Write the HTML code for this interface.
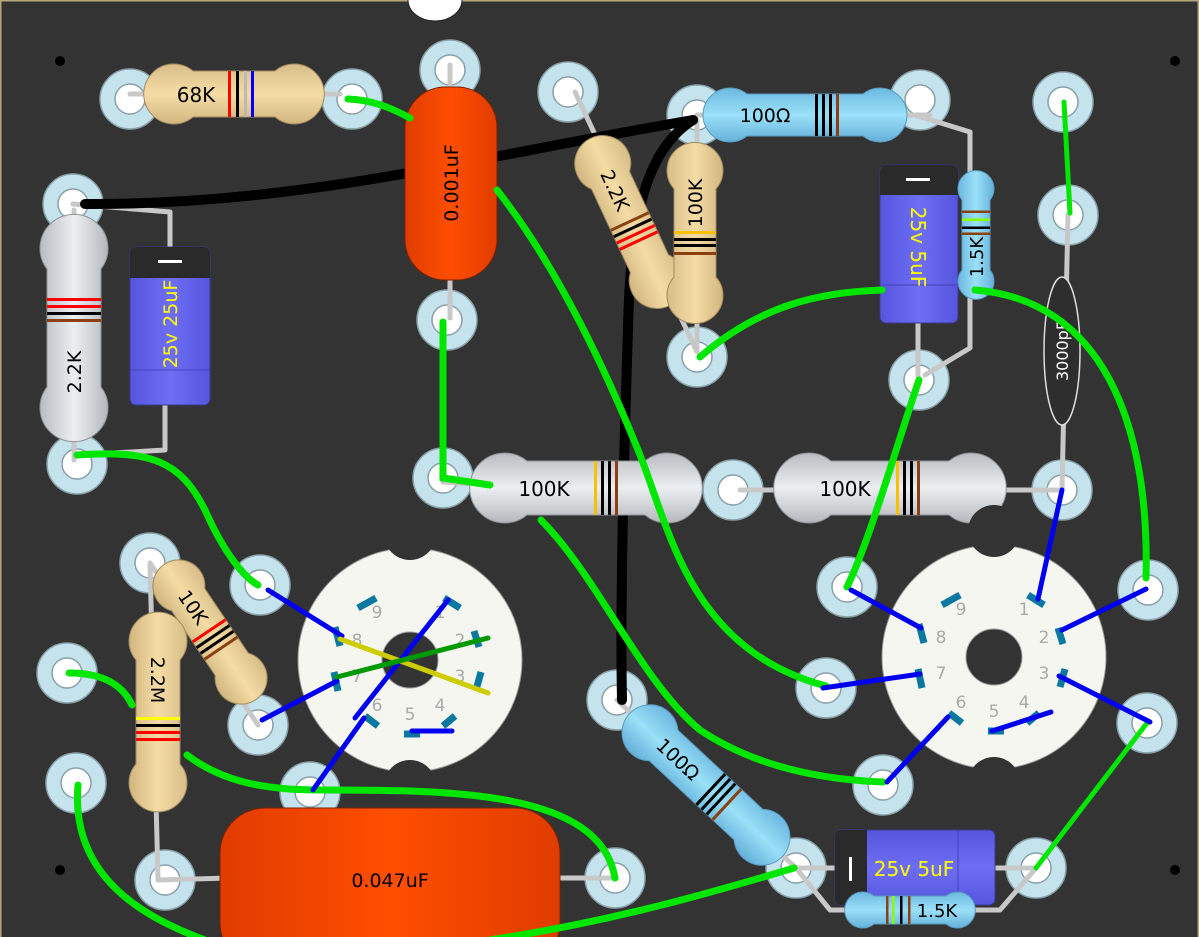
<!DOCTYPE html>
<html><head><meta charset="utf-8"><style>
html,body{margin:0;padding:0;background:#333;}
svg{display:block;}
text{font-family:"DejaVu Sans","Liberation Sans",sans-serif;}
</style></head><body>
<svg width="1199" height="937" viewBox="0 0 1199 937" xmlns="http://www.w3.org/2000/svg">
<defs>
<linearGradient id="tan" x1="0" y1="0" x2="0" y2="1"><stop offset="0" stop-color="#d8bd88"/><stop offset="0.5" stop-color="#f5dca4"/><stop offset="1" stop-color="#d2b680"/></linearGradient>
<linearGradient id="blu" x1="0" y1="0" x2="0" y2="1"><stop offset="0" stop-color="#6cb8e0"/><stop offset="0.5" stop-color="#9ae0f8"/><stop offset="1" stop-color="#64b0da"/></linearGradient>
<linearGradient id="gry" x1="0" y1="0" x2="0" y2="1"><stop offset="0" stop-color="#b8bcc0"/><stop offset="0.5" stop-color="#eceff2"/><stop offset="1" stop-color="#b4b8bc"/></linearGradient>
<linearGradient id="org" x1="0" y1="0" x2="1" y2="0"><stop offset="0" stop-color="#e03c00"/><stop offset="0.5" stop-color="#ff4e00"/><stop offset="1" stop-color="#e03c00"/></linearGradient>
<linearGradient id="ecap" x1="0" y1="0" x2="1" y2="0"><stop offset="0" stop-color="#5555dd"/><stop offset="0.5" stop-color="#6e6ef5"/><stop offset="1" stop-color="#5555dd"/></linearGradient>
<linearGradient id="ecapv" x1="0" y1="0" x2="0" y2="1"><stop offset="0" stop-color="#5555dd"/><stop offset="0.5" stop-color="#6e6ef5"/><stop offset="1" stop-color="#5555dd"/></linearGradient>
<g id="eye"><circle r="30" fill="#c4e3ec" stroke="#8aa0a8" stroke-width="1.5"/><circle r="15" fill="#fff" stroke="#8aa0a8" stroke-width="1.5"/></g>
</defs>
<rect width="1199" height="937" fill="#333"/>
<rect x="0.5" y="0.5" width="1198" height="940" fill="none" stroke="#b5a878" stroke-width="2"/>
<ellipse cx="435" cy="0" rx="27" ry="21" fill="#fff" stroke="#222"/>
<g fill="#000"><circle cx="60" cy="61" r="5"/><circle cx="1175" cy="61" r="5"/><circle cx="60" cy="870" r="5"/><circle cx="1175" cy="870" r="5"/></g>

<use href="#eye" x="130" y="99"/><use href="#eye" x="352" y="99"/><use href="#eye" x="450" y="70"/><use href="#eye" x="568" y="92"/>
<use href="#eye" x="697" y="115"/><use href="#eye" x="920" y="100"/><use href="#eye" x="1063" y="102"/>
<use href="#eye" x="73" y="204"/><use href="#eye" x="1068" y="215"/>
<use href="#eye" x="447" y="320"/><use href="#eye" x="697" y="357"/><use href="#eye" x="919" y="380"/>
<use href="#eye" x="77" y="464"/><use href="#eye" x="443" y="478"/><use href="#eye" x="733" y="490"/><use href="#eye" x="1062" y="490"/>
<use href="#eye" x="150" y="563"/><use href="#eye" x="260" y="585"/><use href="#eye" x="847" y="587"/><use href="#eye" x="1148" y="590"/>
<use href="#eye" x="67" y="673"/><use href="#eye" x="258" y="725"/><use href="#eye" x="826" y="688"/><use href="#eye" x="617" y="700"/><use href="#eye" x="1147" y="723"/>
<use href="#eye" x="76" y="783"/><use href="#eye" x="310" y="792"/><use href="#eye" x="883" y="785"/>
<use href="#eye" x="165" y="880"/><use href="#eye" x="615" y="878"/><use href="#eye" x="796" y="868"/><use href="#eye" x="1036" y="868"/>

<g stroke="#c8c8c8" stroke-width="5" fill="none" stroke-linecap="round" stroke-linejoin="round">
<path d="M130,94 H340"/><path d="M450,65 V100"/><path d="M450,275 V318"/>
<path d="M697,115 H930 M915,115 L970,132 V348 L925,375"/><path d="M918,320 V378"/>
<path d="M575,92 L697,352 V120"/>
<path d="M73,204 L170,212 V250 M74,210 V240"/><path d="M165,400 V450 L80,455 M74,415 V460"/>
<path d="M1068,215 L1062,490 L740,490 M443,482 L500,486"/>
<path d="M150,563 L158,880 L230,878 M150,563 L258,725"/>
<path d="M560,878 H615"/>
<path d="M617,700 L796,868 H840 M796,868 L830,910 H1000 L1036,868 H990"/>
</g>

<g stroke="#000" stroke-width="10" fill="none" stroke-linecap="round">
<path d="M85,204 C300,205 460,160 693,120"/>
<path d="M693,120 C645,150 630,220 628,330 C624,450 620,600 622,700"/>
</g>

<g transform="translate(234,94)">
<path d="M-41,-23 A30,30 0 1 0 -41,23 H41 A30,30 0 1 0 41,-23 Z" fill="url(#tan)" stroke="#a08a60"/>
<rect x="-6" y="-23" width="3" height="46" fill="#f00"/><rect x="2" y="-23" width="3" height="46" fill="#000"/><rect x="10" y="-23" width="3" height="46" fill="#bbb"/><rect x="17" y="-23" width="3" height="46" fill="#00f"/>
<text x="-38" y="8" font-size="20" text-anchor="middle">68K</text></g>

<g transform="translate(805,115)">
<path d="M-58,-21 A27,27 0 1 0 -58,21 H58 A27,27 0 1 0 58,-21 Z" fill="url(#blu)" stroke="#5a9cc0"/>
<rect x="10" y="-21" width="3" height="42" fill="#000"/><rect x="17" y="-21" width="3" height="42" fill="#000"/><rect x="24" y="-21" width="3" height="42" fill="#000"/><rect x="31" y="-21" width="3" height="42" fill="#8a4010"/>
<text x="-40" y="7" font-size="19" text-anchor="middle">100Ω</text></g>

<g transform="translate(630,222) rotate(65)">
<path d="M-46,-21 A28,28 0 1 0 -46,21 H46 A28,28 0 1 0 46,-21 Z" fill="url(#tan)" stroke="#a08a60"/>
<rect x="-2" y="-21" width="3" height="42" fill="#8a4010"/><rect x="5" y="-21" width="3" height="42" fill="#000"/><rect x="12" y="-21" width="3" height="42" fill="#f00"/><rect x="19" y="-21" width="3" height="42" fill="#f00"/>
<text x="-35" y="7" font-size="19" text-anchor="middle">2.2K</text></g>

<g transform="translate(695,233) rotate(-90)">
<path d="M-44,-21 A28,28 0 1 0 -44,21 H44 A28,28 0 1 0 44,-21 Z" fill="url(#tan)" stroke="#a08a60"/>
<rect x="-1" y="-21" width="3" height="42" fill="#f8c000"/><rect x="-8" y="-21" width="3" height="42" fill="#000"/><rect x="-14" y="-21" width="3" height="42" fill="#000"/><rect x="-22" y="-21" width="3" height="42" fill="#8a4010"/>
<text x="30" y="7" font-size="19" text-anchor="middle">100K</text></g>

<rect x="405" y="87" width="92" height="193" rx="40" fill="url(#org)" stroke="#7a2000"/>
<text transform="translate(458,183) rotate(-90)" font-size="19" text-anchor="middle">0.001uF</text>

<rect x="880" y="165" width="78" height="158" rx="6" fill="url(#ecap)" stroke="#3a3a90"/>
<path d="M880,171 a6,6 0 0 1 6,-6 h66 a6,6 0 0 1 6,6 v24 h-78 z" fill="#2a2a2a"/>
<rect x="906" y="178" width="24" height="3" fill="#fff"/>
<line x1="880" y1="285" x2="958" y2="285" stroke="#4444bb"/>
<text transform="translate(911,247) rotate(90)" font-size="20" fill="#ffff00" text-anchor="middle">25v 5uF</text>

<g transform="translate(976,235) rotate(-90)">
<path d="M-35,-14 A18,18 0 1 0 -35,14 H35 A18,18 0 1 0 35,-14 Z" fill="url(#blu)" stroke="#5a9cc0"/>
<rect x="22" y="-14" width="2.5" height="28" fill="#8a4010"/><rect x="14" y="-14" width="2.5" height="28" fill="#8f0"/><rect x="6" y="-14" width="2.5" height="28" fill="#000"/><rect x="0" y="-14" width="2.5" height="28" fill="#8a4010"/>
<text x="-22" y="7" font-size="18" text-anchor="middle">1.5K</text></g>

<ellipse cx="1062" cy="351" rx="18" ry="74" fill="#2e2e2e" stroke="#ddd" stroke-width="1.5"/>
<text transform="translate(1068,351) rotate(-90)" font-size="16" fill="#fff" text-anchor="middle">3000pF</text>

<g transform="translate(74,328) rotate(-90)">
<path d="M-59,-27 A34,34 0 1 0 -59,27 H59 A34,34 0 1 0 59,-27 Z" fill="url(#gry)" stroke="#8e9296"/>
<rect x="27" y="-27" width="3" height="54" fill="#f00"/><rect x="20" y="-27" width="3" height="54" fill="#f00"/><rect x="13" y="-27" width="3" height="54" fill="#000"/><rect x="6" y="-27" width="3" height="54" fill="#8a4010"/>
<text x="-44" y="7" font-size="19" text-anchor="middle">2.2K</text></g>

<rect x="130" y="247" width="80" height="158" rx="6" fill="url(#ecap)" stroke="#3a3a90"/>
<path d="M130,253 a6,6 0 0 1 6,-6 h68 a6,6 0 0 1 6,6 v25 h-80 z" fill="#2a2a2a"/>
<rect x="158" y="260" width="24" height="3" fill="#fff"/>
<line x1="130" y1="370" x2="210" y2="370" stroke="#4444bb"/>
<text transform="translate(177,324) rotate(-90)" font-size="19" fill="#ffff00" text-anchor="middle">25v 25uF</text>

<g transform="translate(586,488)">
<path d="M-59,-27 A35,35 0 1 0 -59,27 H59 A35,35 0 1 0 59,-27 Z" fill="url(#gry)" stroke="#8e9296"/>
<rect x="8" y="-27" width="3" height="54" fill="#f8c000"/><rect x="15" y="-27" width="3" height="54" fill="#000"/><rect x="22" y="-27" width="3" height="54" fill="#000"/><rect x="29" y="-27" width="3" height="54" fill="#8a4010"/>
<text x="-42" y="8" font-size="20" text-anchor="middle">100K</text></g>
<g transform="translate(890,488)">
<path d="M-59,-27 A35,35 0 1 0 -59,27 H59 A35,35 0 1 0 59,-27 Z" fill="url(#gry)" stroke="#8e9296"/>
<rect x="6" y="-27" width="3" height="54" fill="#f8c000"/><rect x="13" y="-27" width="3" height="54" fill="#000"/><rect x="20" y="-27" width="3" height="54" fill="#000"/><rect x="27" y="-27" width="3" height="54" fill="#8a4010"/>
<text x="-45" y="8" font-size="20" text-anchor="middle">100K</text></g>

<g transform="translate(410,660)">
<circle r="112" fill="#f6f6f0" stroke="#999"/>
<circle cx="0" cy="-126" r="26" fill="#333"/><circle cx="0" cy="126" r="26" fill="#333"/>
<circle r="28" fill="#333" stroke="#999"/>
</g>
<g transform="translate(994,657)">
<circle r="112" fill="#f6f6f0" stroke="#999"/>
<circle cx="0" cy="-126" r="26" fill="#333"/><circle cx="0" cy="126" r="26" fill="#333"/>
<circle r="28" fill="#333" stroke="#999"/>
</g>
<g stroke="#0a78a0" stroke-width="7">
<g transform="translate(410,660)">
<line x1="-52" y1="-52" x2="-34" y2="-62"/><line x1="34" y1="-62" x2="50" y2="-52"/><line x1="64" y1="-29" x2="69" y2="-13"/>
<line x1="71" y1="12" x2="66" y2="30"/><line x1="45" y1="56" x2="33" y2="66"/><line x1="-6" y1="74" x2="10" y2="74"/>
<line x1="-45" y1="56" x2="-32" y2="66"/><line x1="-76" y1="12" x2="-72" y2="31"/><line x1="-70" y1="-14" x2="-75" y2="-33"/>
</g>
<g transform="translate(994,657)">
<line x1="-52" y1="-52" x2="-34" y2="-62"/><line x1="34" y1="-62" x2="50" y2="-52"/><line x1="64" y1="-29" x2="69" y2="-13"/>
<line x1="71" y1="12" x2="66" y2="30"/><line x1="45" y1="56" x2="33" y2="66"/><line x1="-6" y1="74" x2="10" y2="74"/>
<line x1="-45" y1="56" x2="-32" y2="66"/><line x1="-76" y1="12" x2="-72" y2="31"/><line x1="-70" y1="-14" x2="-75" y2="-33"/>
</g>
</g>
<g font-size="17" fill="#aaa" text-anchor="middle">
<g transform="translate(410,660)"><text x="-33" y="-42">9</text><text x="30" y="-42">1</text><text x="50" y="-14">2</text><text x="50" y="22">3</text><text x="30" y="51">4</text><text x="0" y="60">5</text><text x="-33" y="51">6</text><text x="-53" y="22">7</text><text x="-53" y="-14">8</text></g>
<g transform="translate(994,657)"><text x="-33" y="-42">9</text><text x="30" y="-42">1</text><text x="50" y="-14">2</text><text x="50" y="22">3</text><text x="30" y="51">4</text><text x="0" y="60">5</text><text x="-33" y="51">6</text><text x="-53" y="22">7</text><text x="-53" y="-14">8</text></g>
</g>

<g transform="translate(210,632) rotate(56)">
<path d="M-39,-20 A26,26 0 1 0 -39,20 H39 A26,26 0 1 0 39,-20 Z" fill="url(#tan)" stroke="#a08a60"/>
<rect x="-3" y="-20" width="3" height="40" fill="#f00"/><rect x="4" y="-20" width="3" height="40" fill="#000"/><rect x="11" y="-20" width="3" height="40" fill="#000"/><rect x="18" y="-20" width="3" height="40" fill="#8a4010"/>
<text x="-30" y="7" font-size="19" text-anchor="middle">10K</text></g>

<g transform="translate(158,712) rotate(90)">
<path d="M-52,-22 A29,29 0 1 0 -52,22 H52 A29,29 0 1 0 52,-22 Z" fill="url(#tan)" stroke="#a08a60"/>
<rect x="5" y="-22" width="3" height="44" fill="#ff0"/><rect x="12" y="-22" width="3" height="44" fill="#000"/><rect x="19" y="-22" width="3" height="44" fill="#f00"/><rect x="26" y="-22" width="3" height="44" fill="#f00"/>
<text x="-32" y="7" font-size="19" text-anchor="middle">2.2M</text></g>

<rect x="220" y="808" width="340" height="160" rx="45" fill="url(#org)" stroke="#7a2000"/>
<text x="390" y="887" font-size="19" text-anchor="middle">0.047uF</text>

<g transform="translate(706,785) rotate(43)">
<path d="M-58,-21 A28,28 0 1 0 -58,21 H58 A28,28 0 1 0 58,-21 Z" fill="url(#blu)" stroke="#5a9cc0"/>
<rect x="5" y="-21" width="3" height="42" fill="#000"/><rect x="12" y="-21" width="3" height="42" fill="#000"/><rect x="19" y="-21" width="3" height="42" fill="#000"/><rect x="27" y="-21" width="3" height="42" fill="#8a4010"/>
<text x="-38" y="7" font-size="19" text-anchor="middle">100Ω</text></g>

<rect x="835" y="830" width="160" height="75" rx="6" fill="url(#ecapv)" stroke="#3a3a90"/>
<path d="M841,830 h26 v75 h-26 a6,6 0 0 1 -6,-6 v-63 a6,6 0 0 1 6,-6 z" fill="#2a2a2a"/>
<rect x="849" y="857" width="3" height="24" fill="#fff"/>
<line x1="958" y1="830" x2="958" y2="905" stroke="#4444bb"/>
<text x="914" y="876" font-size="20" fill="#ffff00" text-anchor="middle">25v 5uF</text>

<g transform="translate(910,910)">
<path d="M-36,-14 A18,18 0 1 0 -36,14 H36 A18,18 0 1 0 36,-14 Z" fill="url(#blu)" stroke="#5a9cc0"/>
<rect x="-24" y="-14" width="2.5" height="28" fill="#8a4010"/><rect x="-18" y="-14" width="2.5" height="28" fill="#8f0"/><rect x="-10" y="-14" width="2.5" height="28" fill="#000"/><rect x="-2" y="-14" width="2.5" height="28" fill="#8a4010"/>
<text x="27" y="7" font-size="18" text-anchor="middle">1.5K</text></g>

<g stroke="#00e600" stroke-width="7" fill="none" stroke-linecap="round">
<path d="M348,99 C375,100 395,110 410,118"/>
<path d="M497,190 C560,270 610,380 640,455 C670,530 690,650 826,686"/>
<path d="M443,322 V478 L490,485"/>
<path d="M541,520 C600,580 640,680 700,730 C760,770 830,780 883,782"/>
<path d="M77,455 C150,450 180,460 205,510 C225,555 245,578 258,585"/>
<path d="M69,673 C110,673 125,690 132,705"/>
<path d="M187,755 C220,780 260,790 320,790 C450,790 600,790 615,878"/>
<path d="M78,785 C70,880 150,920 205,940"/>
<path d="M490,940 C620,920 720,890 794,868"/>
<path d="M700,357 C760,305 820,292 882,290"/>
<path d="M975,290 C1100,300 1150,420 1146,578"/>
<path d="M919,380 C895,450 870,540 847,587"/>
<path d="M1064,102 L1070,213" stroke-width="5"/>
<path d="M1147,723 L1036,868" stroke-width="5"/>
</g>

<g stroke="#0000ee" stroke-width="5" fill="none" stroke-linecap="round">
<path d="M268,590 L342,636"/><path d="M262,720 L337,681"/><path d="M313,790 L364,718"/><path d="M355,718 L448,600"/><path d="M412,731 L452,731"/>
<path d="M851,590 L921,628"/><path d="M823,688 L920,674"/><path d="M887,782 L948,717"/><path d="M1062,490 L1038,599"/><path d="M1146,589 L1062,630"/><path d="M1150,722 L1059,676"/><path d="M992,731 L1051,712"/>
</g>
<path d="M340,639 L488,693" stroke="#cccc00" stroke-width="5" stroke-linecap="round"/>
<path d="M337,677 L488,638" stroke="#009900" stroke-width="5" stroke-linecap="round"/>
</svg>
</body></html>
